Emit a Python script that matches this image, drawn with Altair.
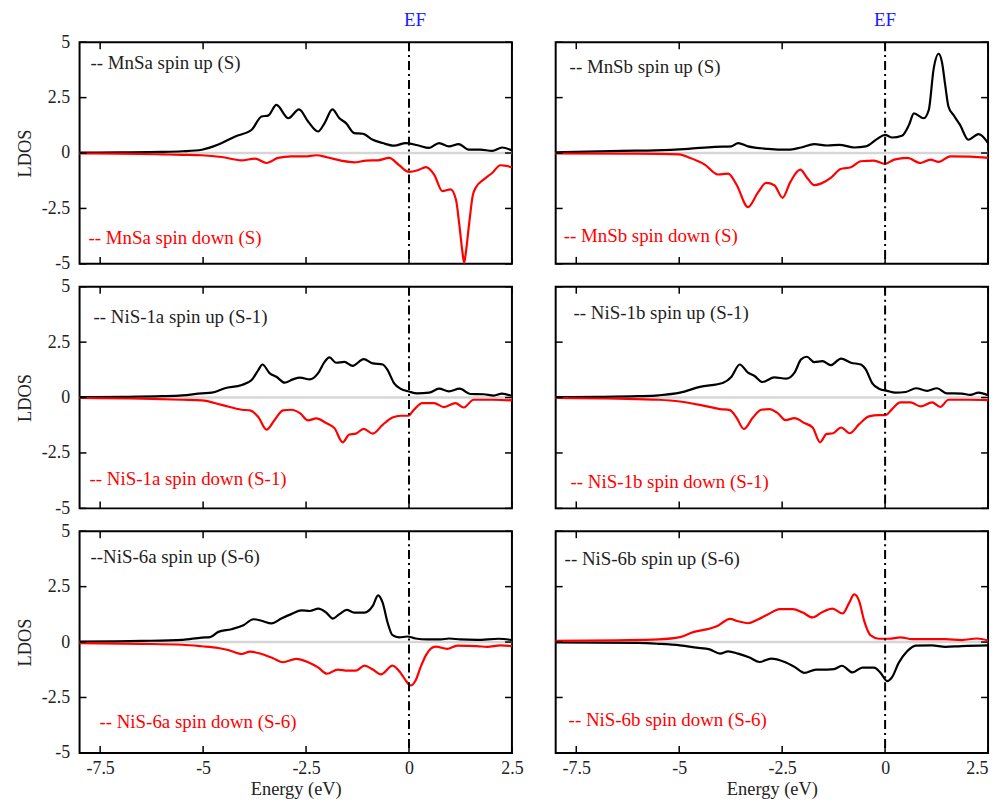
import altair as alt
import pandas as pd

# ---------------- data ----------------
X_TICKS = [-7.5, -5, -2.5, 0, 2.5]
Y_TICKS = [-5, -2.5, 0, 2.5, 5]
EF_POS = [0]

# MnSa
mnsa_up_e = [-8, -7, -6, -5.5, -5.03, -4.63, -4.22, -3.82, -3.58, -3.42, -3.22, -2.93, -2.67, -2.45, -2.21,
             -2.05, -1.86, -1.69, -1.53, -1.33, -1.12, -0.88, -0.64, -0.36, -0.08, 0.21, 0.49, 0.73, 0.97,
             1.21, 1.45, 1.73, 2.02, 2.26, 2.5]
mnsa_up_v = [0.02, 0.03, 0.05, 0.08, 0.15, 0.38, 0.75, 1.05, 1.65, 1.69, 2.17, 1.57, 1.97, 1.42, 0.97,
             1.35, 1.97, 1.57, 1.35, 0.9, 0.87, 0.6, 0.45, 0.33, 0.45, 0.35, 0.23, 0.45, 0.3,
             0.4, 0.15, 0.15, 0.1, 0.25, 0.12]
mnsa_dn_e = [-8, -7, -6, -5.5, -5.03, -4.55, -4.07, -3.74, -3.46, -3.18, -2.86, -2.53, -2.25, -1.97, -1.65,
             -1.33, -1.04, -0.76, -0.48, -0.24, 0.0, 0.21, 0.41, 0.61, 0.81, 1.01, 1.14, 1.22, 1.3, 1.34,
             1.38, 1.46, 1.55, 1.62, 1.82, 2.02, 2.22, 2.5]
mnsa_dn_v = [-0.02, -0.03, -0.06, -0.08, -0.1, -0.18, -0.33, -0.25, -0.45, -0.22, -0.15, -0.15, -0.1, -0.2, -0.34,
             -0.42, -0.34, -0.33, -0.22, -0.55, -0.85, -0.78, -0.64, -0.97, -1.72, -1.64, -2.1, -3.2, -4.5, -4.95,
             -4.5, -3.2, -1.9, -1.57, -1.19, -0.9, -0.55, -0.64]

# MnSb
mnsb_up_e = [-8, -6.39, -5.58, -4.78, -4.14, -3.73, -3.57, -3.33, -2.85, -2.36, -2.04, -1.72, -1.4, -1.11,
             -0.75, -0.47, -0.19, 0.0, 0.17, 0.41, 0.58, 0.7, 0.94, 1.06, 1.18, 1.3, 1.38, 1.46, 1.54, 1.66,
             1.82, 2.02, 2.27, 2.5]
mnsb_up_v = [0.03, 0.1, 0.12, 0.19, 0.28, 0.3, 0.45, 0.3, 0.19, 0.15, 0.25, 0.4, 0.34, 0.37,
             0.25, 0.3, 0.64, 0.82, 0.7, 0.78, 1.27, 1.79, 1.57, 1.94, 3.81, 4.48, 4.11, 3.06, 2.09, 1.72,
             1.27, 0.6, 0.85, 0.45]
mnsb_dn_e = [-8, -6, -5.0, -4.78, -4.38, -4.06, -3.81, -3.61, -3.33, -3.09, -2.89, -2.69, -2.49, -2.3, -2.06,
             -1.9, -1.72, -1.56, -1.32, -1.08, -0.83, -0.59, -0.27, 0.0, 0.22, 0.54, 0.86, 1.1, 1.3, 1.58,
             2.07, 2.5]
mnsb_dn_v = [-0.02, -0.03, -0.06, -0.19, -0.52, -0.97, -0.93, -1.42, -2.44, -1.79, -1.35, -1.45, -2.02, -1.3, -0.75,
             -1.1, -1.45, -1.38, -1.12, -0.72, -0.64, -0.37, -0.34, -0.49, -0.3, -0.22, -0.45, -0.3, -0.4, -0.15,
             -0.16, -0.22]

# NiS-1a
nis1a_up_e = [-8, -7, -6, -5.5, -5.03, -4.79, -4.47, -4.06, -3.82, -3.66, -3.56, -3.38, -3.22, -3.02, -2.82,
              -2.65, -2.41, -2.21, -2.05, -1.93, -1.77, -1.57, -1.37, -1.1, -0.88, -0.64, -0.52, -0.36, -0.2,
              0.0, 0.2, 0.49, 0.73, 0.97, 1.23, 1.49, 1.81, 2.06, 2.26, 2.5]
nis1a_up_v = [0.02, 0.03, 0.06, 0.1, 0.19, 0.22, 0.42, 0.57, 0.79, 1.24, 1.49, 1.09, 0.94, 0.67, 0.82,
              0.9, 0.82, 1.09, 1.61, 1.81, 1.57, 1.61, 1.43, 1.73, 1.54, 1.49, 1.24, 0.64, 0.39,
              0.27, 0.19, 0.22, 0.4, 0.28, 0.4, 0.16, 0.15, 0.09, 0.18, 0.07]
nis1a_dn_e = [-8, -6.5, -5.5, -5.03, -4.55, -4.06, -3.86, -3.66, -3.46, -3.26, -3.06, -2.86, -2.65, -2.45,
              -2.25, -2.01, -1.81, -1.61, -1.45, -1.29, -1.1, -0.88, -0.64, -0.4, -0.2, -0.02, 0.12, 0.32,
              0.61, 0.85, 1.13, 1.33, 1.57, 2.06, 2.5]
nis1a_dn_v = [-0.02, -0.05, -0.1, -0.13, -0.33, -0.55, -0.58, -0.88, -1.45, -1.0, -0.58, -0.55, -0.7, -1.03,
              -0.94, -1.15, -1.38, -2.02, -1.67, -1.63, -1.41, -1.63, -1.23, -0.9, -0.82, -0.82, -0.55, -0.25,
              -0.25, -0.43, -0.25, -0.45, -0.1, -0.1, -0.13]

# NiS-1b
nis1b_up_e = [-8, -7, -6, -5.5, -4.98, -4.5, -3.93, -3.73, -3.53, -3.33, -3.17, -2.98, -2.69, -2.4, -2.2,
              -2.04, -1.9, -1.72, -1.52, -1.32, -1.07, -0.83, -0.59, -0.47, -0.31, -0.15, 0.05, 0.25, 0.5,
              0.75, 1.02, 1.26, 1.5, 1.86, 2.07, 2.27, 2.5]
nis1b_up_v = [0.02, 0.03, 0.06, 0.1, 0.22, 0.48, 0.67, 0.94, 1.49, 1.12, 0.97, 0.7, 0.91, 0.85, 1.12,
              1.72, 1.84, 1.6, 1.64, 1.46, 1.76, 1.57, 1.49, 1.27, 0.64, 0.4, 0.3, 0.22, 0.25,
              0.42, 0.3, 0.42, 0.19, 0.18, 0.12, 0.22, 0.1]
nis1b_dn_e = [-8, -6.5, -5.5, -4.98, -4.5, -4.01, -3.77, -3.61, -3.43, -3.21, -3.01, -2.81, -2.61, -2.42,
              -2.2, -1.96, -1.76, -1.58, -1.42, -1.26, -1.07, -0.86, -0.63, -0.39, -0.15, 0.01, 0.17, 0.37,
              0.62, 0.86, 1.14, 1.34, 1.54, 2.02, 2.5]
nis1b_dn_v = [-0.02, -0.05, -0.1, -0.18, -0.33, -0.52, -0.57, -0.9, -1.42, -0.9, -0.55, -0.52, -0.7, -1.02,
              -0.93, -1.15, -1.35, -2.02, -1.64, -1.61, -1.35, -1.61, -1.2, -0.85, -0.79, -0.79, -0.52, -0.22,
              -0.22, -0.4, -0.22, -0.42, -0.1, -0.1, -0.12]

# NiS-6a
nis6a_up_e = [-8, -6.5, -5.5, -5.03, -4.83, -4.63, -4.31, -4.02, -3.78, -3.58, -3.34, -3.1, -2.86, -2.61,
              -2.41, -2.2, -2.01, -1.85, -1.69, -1.51, -1.33, -1.08, -0.88, -0.75, -0.64, -0.52, -0.4, -0.24,
              -0.04, 0.16, 0.45, 0.77, 0.97, 1.25, 1.65, 2.18, 2.5]
nis6a_up_v = [0.02, 0.05, 0.1, 0.2, 0.22, 0.46, 0.58, 0.76, 1.03, 0.96, 0.84, 1.06, 1.26, 1.43,
              1.4, 1.51, 1.33, 1.06, 1.26, 1.45, 1.33, 1.33, 1.63, 2.11, 1.78, 0.88, 0.31, 0.21,
              0.25, 0.16, 0.12, 0.12, 0.16, 0.12, 0.1, 0.15, 0.09]
nis6a_dn_e = [-8, -6.5, -5.5, -5.03, -4.63, -4.39, -4.06, -3.86, -3.58, -3.3, -3.06, -2.74, -2.45, -2.21,
              -1.99, -1.73, -1.49, -1.29, -1.08, -0.88, -0.68, -0.4, -0.2, -0.08, 0.04, 0.16, 0.28, 0.41,
              0.53, 0.65, 0.93, 1.17, 1.65, 1.9, 2.22, 2.5]
nis6a_dn_v = [-0.05, -0.08, -0.12, -0.19, -0.27, -0.36, -0.54, -0.43, -0.54, -0.73, -0.91, -0.76, -0.91, -1.14,
              -1.43, -1.24, -1.29, -1.29, -1.06, -1.24, -1.46, -1.06, -1.4, -1.73, -1.96, -1.73, -1.14, -0.6,
              -0.3, -0.21, -0.31, -0.16, -0.18, -0.22, -0.15, -0.18]

# NiS-6b (spin up is the black curve below zero, spin down the red one above)
nis6b_up_e = [-8, -6, -5.5, -4.98, -4.58, -4.26, -4.01, -3.81, -3.57, -3.29, -3.05, -2.77, -2.44, -2.2,
              -1.96, -1.68, -1.4, -1.24, -1.05, -0.79, -0.55, -0.27, -0.11, 0.05, 0.17, 0.33, 0.53, 0.74,
              1.14, 1.46, 1.86, 2.5]
nis6b_up_v = [-0.02, -0.04, -0.08, -0.15, -0.25, -0.33, -0.52, -0.42, -0.52, -0.7, -0.9, -0.75, -0.9, -1.12,
              -1.39, -1.24, -1.24, -1.22, -1.07, -1.37, -1.15, -1.15, -1.39, -1.76, -1.58, -0.94, -0.43, -0.16,
              -0.15, -0.22, -0.18, -0.15]
nis6b_dn_e = [-8, -6.5, -5.5, -4.98, -4.66, -4.34, -4.05, -3.77, -3.57, -3.33, -3.09, -2.85, -2.56, -2.24,
              -2.0, -1.76, -1.52, -1.28, -1.03, -0.87, -0.75, -0.63, -0.51, -0.35, -0.15, 0.09, 0.37, 0.66,
              1.46, 1.86, 2.23, 2.5]
nis6b_dn_v = [0.05, 0.08, 0.12, 0.22, 0.45, 0.57, 0.75, 1.05, 0.94, 0.85, 1.02, 1.24, 1.49, 1.49,
              1.33, 1.11, 1.36, 1.51, 1.29, 1.78, 2.15, 1.85, 0.97, 0.3, 0.15, 0.15, 0.21, 0.13,
              0.13, 0.09, 0.16, 0.07]

LABELS = [
    ("-- MnSa spin up (S)", "-- MnSa spin down (S)"),
    ("-- MnSb spin up (S)", "-- MnSb spin down (S)"),
    ("-- NiS-1a spin up (S-1)", "-- NiS-1a spin down (S-1)"),
    ("-- NiS-1b spin up (S-1)", "-- NiS-1b spin down (S-1)"),
    ("--NiS-6a spin up (S-6)", "-- NiS-6a spin down (S-6)"),
    ("-- NiS-6b spin up (S-6)", "-- NiS-6b spin down (S-6)"),
]

# ---------------- styling ----------------
W, H = 435, 223
FONT = "Liberation Serif, Times New Roman, serif"
TL = 7
TXT = "#222222"

xs = alt.Scale(domain=[-8, 2.5], nice=False, zero=False)
ys = alt.Scale(domain=[-5, 5], nice=False, zero=False)

# label positions inside each panel (px from plot-area left/top)
LABEL_POS = [
    ((11, 21), (9, 197)),
    ((14, 25), (8, 195)),
    ((14, 30), (10, 193)),
    ((18, 26), (15, 197)),
    ((11, 26), (20, 192)),
    ((9, 28), (13, 190)),
]
EF_DX = [6, 0]


def panel(up_e, up_v, dn_e, dn_v, labels, pos, show_x, show_y, show_ef, ef_dx, x_flush):
    xaxis = alt.Axis(values=X_TICKS, labelExpr="'' + datum.value", ticks=False, domain=False, grid=False,
                     labelFlush=x_flush, title="Energy (eV)", labelPadding=7, titlePadding=2) if show_x else None
    yaxis = alt.Axis(values=Y_TICKS, labelExpr="'' + datum.value", ticks=False, domain=False, grid=False,
                     labelFlush=False, title="LDOS", labelPadding=10, titlePadding=7) if show_y else None

    zero = alt.Chart(pd.DataFrame({"z": [0]})).mark_rule(color="#d6d6d6", strokeWidth=2.5).encode(
        y=alt.Y("z:Q", scale=ys, axis=yaxis), x=alt.value(0), x2=alt.value(W))
    up = alt.Chart(pd.DataFrame({"E": up_e, "v": up_v})).mark_line(
        color="black", strokeWidth=2.2, interpolate="monotone").encode(
        x=alt.X("E:Q", scale=xs, axis=xaxis), y=alt.Y("v:Q", scale=ys, axis=yaxis))
    dn = alt.Chart(pd.DataFrame({"E": dn_e, "v": dn_v})).mark_line(
        color="#ff0000", strokeWidth=2.2, interpolate="monotone").encode(
        x=alt.X("E:Q", scale=xs, axis=xaxis), y=alt.Y("v:Q", scale=ys, axis=yaxis))
    ef = alt.Chart(pd.DataFrame({"ef": EF_POS})).mark_rule(
        color="black", strokeWidth=2, strokeDash=[9, 4, 2, 4]).encode(
        x=alt.X("ef:Q", scale=xs, axis=xaxis))

    xt = pd.DataFrame({"t": X_TICKS})
    yt = pd.DataFrame({"t": Y_TICKS})
    tk_top = alt.Chart(xt).mark_rule(color="black", strokeWidth=1.5).encode(
        x=alt.X("t:Q", scale=xs, axis=xaxis), y=alt.value(0), y2=alt.value(TL))
    tk_bot = alt.Chart(xt).mark_rule(color="black", strokeWidth=1.5).encode(
        x=alt.X("t:Q", scale=xs, axis=xaxis), y=alt.value(H), y2=alt.value(H - TL))
    tk_left = alt.Chart(yt).mark_rule(color="black", strokeWidth=1.5).encode(
        y=alt.Y("t:Q", scale=ys, axis=yaxis), x=alt.value(0), x2=alt.value(TL))
    tk_right = alt.Chart(yt).mark_rule(color="black", strokeWidth=1.5).encode(
        y=alt.Y("t:Q", scale=ys, axis=yaxis), x=alt.value(W), x2=alt.value(W - TL))

    t_up = alt.Chart(pd.DataFrame({"s": [labels[0]]})).mark_text(
        align="left", baseline="middle", font=FONT, fontSize=19, color=TXT).encode(
        text="s:N", x=alt.value(pos[0][0]), y=alt.value(pos[0][1]))
    t_dn = alt.Chart(pd.DataFrame({"s": [labels[1]]})).mark_text(
        align="left", baseline="middle", font=FONT, fontSize=19, color="#ff0000").encode(
        text="s:N", x=alt.value(pos[1][0]), y=alt.value(pos[1][1]))

    layers = [zero, up, dn, ef, tk_top, tk_bot, tk_left, tk_right, t_up, t_dn]
    if show_ef:
        ef_txt = alt.Chart(pd.DataFrame({"ef": EF_POS, "s": ["EF"]})).mark_text(
            baseline="middle", align="center", font=FONT, fontSize=19, color="#1a1aff", dx=ef_dx).encode(
            x=alt.X("ef:Q", scale=xs, axis=xaxis), y=alt.value(-22), text="s:N")
        layers.append(ef_txt)
    return alt.layer(*layers).properties(width=W, height=H)


series = [
    (mnsa_up_e, mnsa_up_v, mnsa_dn_e, mnsa_dn_v),
    (mnsb_up_e, mnsb_up_v, mnsb_dn_e, mnsb_dn_v),
    (nis1a_up_e, nis1a_up_v, nis1a_dn_e, nis1a_dn_v),
    (nis1b_up_e, nis1b_up_v, nis1b_dn_e, nis1b_dn_v),
    (nis6a_up_e, nis6a_up_v, nis6a_dn_e, nis6a_dn_v),
    (nis6b_up_e, nis6b_up_v, nis6b_dn_e, nis6b_dn_v),
]

panels = []
for i, s in enumerate(series):
    row, col = divmod(i, 2)
    panels.append(panel(*s, LABELS[i], LABEL_POS[i],
                        show_x=(row == 2), show_y=(col == 0), show_ef=(row == 0), ef_dx=EF_DX[col],
                        x_flush=(col == 1)))

chart = alt.concat(*panels, columns=2, spacing={"row": 23, "column": 44}, bounds="flush").properties(
    padding={"left": 6, "top": 0, "right": 2, "bottom": 0}
).configure_view(stroke="black", strokeWidth=2).configure_axis(
    labelFont=FONT, titleFont=FONT, labelFontSize=18, titleFontSize=18.5, titleFontWeight="normal",
    labelColor=TXT, titleColor=TXT
)

chart.save("out.html", embed_options={"renderer": "svg", "actions": False})
